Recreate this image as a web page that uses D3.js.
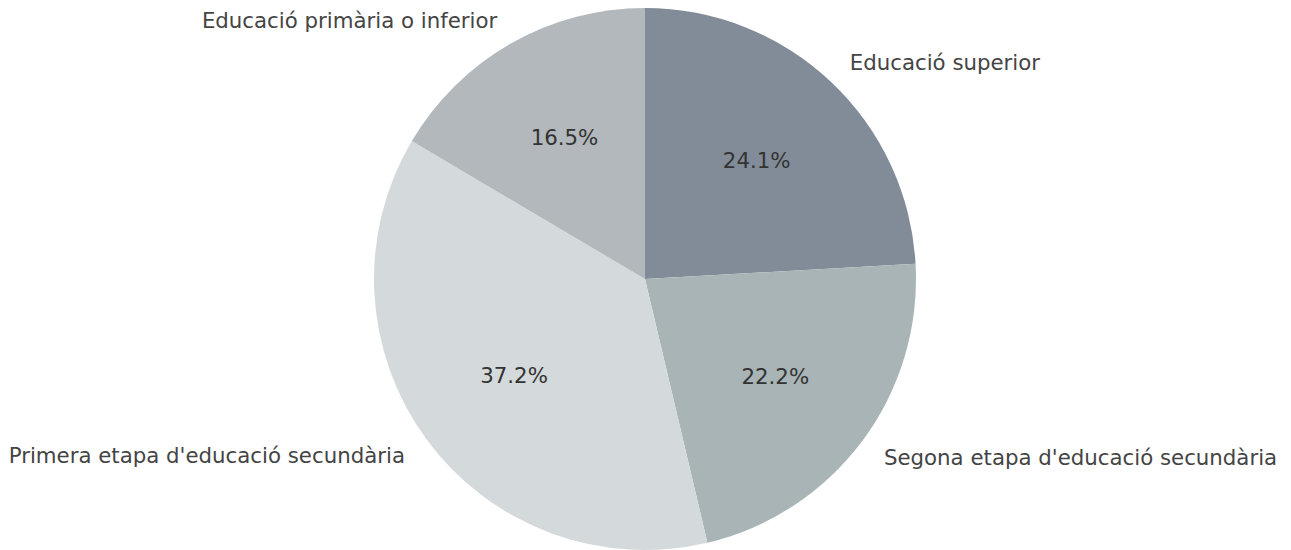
<!DOCTYPE html>
<html><head><meta charset="utf-8">
<script src="https://cdn.jsdelivr.net/npm/d3@7"></script>
<style>body{margin:0;background:#fff}svg{display:block}</style>
</head><body>
<svg id="c" width="1291" height="550"></svg>
<script>
const categories = ["Educació superior", "Segona etapa d'educació secundària", "Primera etapa d'educació secundària", "Educació primària o inferior"];
const values = [24.1, 22.2, 37.2, 16.5];
const colors = ["#818c98", "#a8b4b5", "#d4dadb", "#b2b8bb"];

const W = 1291, H = 550, cx = 645, cy = 279, R = 271;
const svg = d3.select("#c");
const g = svg.append("g").attr("transform", `translate(${cx},${cy})`);
const data = categories.map((c, i) => ({ c, v: values[i], col: colors[i] }));
const pie = d3.pie().value(d => d.v).sort(null);
const arcs = pie(data);
const arc = d3.arc().innerRadius(0).outerRadius(R);
g.selectAll("path").data(arcs).join("path").attr("d", arc).attr("fill", d => d.data.col);

const total = d3.sum(values);
arcs.forEach(a => {
  const m = (a.startAngle + a.endAngle) / 2;
  const sx = Math.sin(m), sy = -Math.cos(m);
  const lx = 1.1 * R * sx, ly = 1.1 * R * sy;
  g.append("text").attr("x", lx).attr("y", ly)
    .attr("text-anchor", sx > 0 ? "start" : "end")
    .attr("dominant-baseline", "central")
    .attr("font-family", "DejaVu Sans").attr("font-size", 21.3).attr("fill", "#444")
    .text(a.data.c);
  g.append("text").attr("x", 0.6 * R * sx).attr("y", 0.6 * R * sy)
    .attr("text-anchor", "middle").attr("dominant-baseline", "central")
    .attr("font-family", "DejaVu Sans").attr("font-size", 21.3).attr("fill", "#333")
    .text((a.data.v / total * 100).toFixed(1) + "%");
});
</script>
</body></html>
